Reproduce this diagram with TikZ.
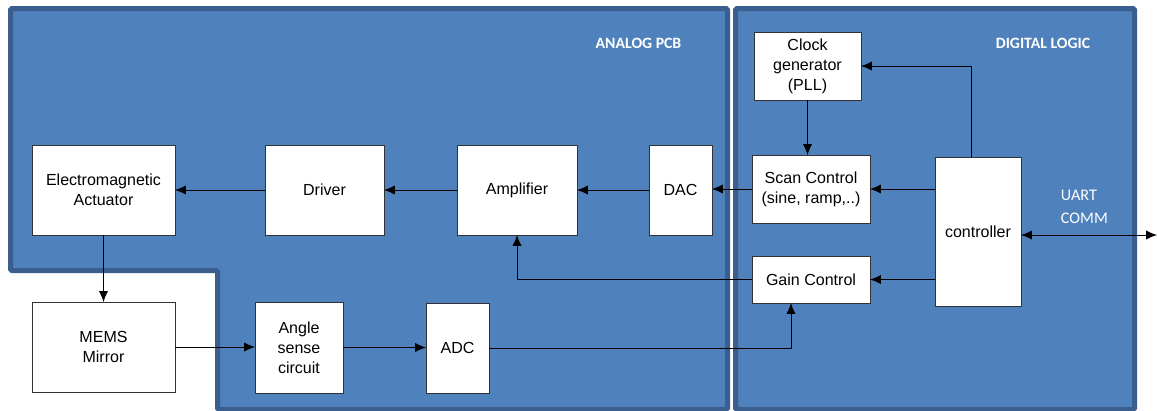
\documentclass[tikz,border=0pt]{standalone}
\usepackage{fontspec}
\setmainfont{Liberation Sans}
\newfontfamily\calib{Carlito}
\usetikzlibrary{arrows.meta,calc}
\newcommand\pxu{0.025cm}
\definecolor{regfill}{HTML}{4F81BD}
\definecolor{regline}{HTML}{3A5F8E}
\definecolor{boxline}{HTML}{333333}
\tikzset{
  region/.style={fill=regfill,draw=regline,line width=5*\pxu,rounded corners=1.5*\pxu},
  blk/.style={draw=boxline,fill=white,line width=0.7pt,inner sep=0pt,outer sep=0pt,align=center,
    font=\fontsize{11.4}{14.2}\selectfont,text=black},
  title/.style={font=\calib\bfseries\fontsize{11.2}{13}\selectfont,text=white},
  conn/.style={draw=black,line width=0.7pt,-{Latex[length=2.7mm,width=2.3mm]}},
  biconn/.style={draw=black,line width=0.7pt,{Latex[length=2.7mm,width=2.3mm]}-{Latex[length=2.7mm,width=2.3mm]}},
}
\begin{document}
\begin{tikzpicture}[x=\pxu,y=-\pxu]
\useasboundingbox (0,0) rectangle (1157,410);
\begin{scope}
\clip (0,0) rectangle (1157,410);
\draw[region] (10.5,8.5) -- (727.5,8.5) -- (727.5,409.5) -- (217.5,409.5) -- (217.5,270.5) -- (10.5,270.5) -- cycle;
\draw[region] (735.5,8.5) rectangle (1134.5,409.5);
\end{scope}
\node[title] (tana) at (638.5,43) {ANALOG PCB};
\node[title] (tdig) at (1043,43) {DIGITAL LOGIC};

\node[blk,minimum width=143*\pxu,minimum height=90*\pxu] (ea) at (103.5,190) {Electromagnetic\\Actuator};
\node[blk,minimum width=119*\pxu,minimum height=90*\pxu] (drv) at (324.5,190) {Driver};
\node[blk,minimum width=120*\pxu,minimum height=90*\pxu] (amp) at (517,190) {Amplifier};
\node[blk,minimum width=63*\pxu,minimum height=90*\pxu] (dac) at (680.5,190) {DAC};
\node[blk,minimum width=118*\pxu,minimum height=68*\pxu] (scan) at (811,189) {Scan Control\\(sine, ramp,..)};
\node[blk,minimum width=107*\pxu,minimum height=68*\pxu] (clk) at (807.5,66) {Clock\\generator\\(PLL)};
\node[blk,minimum width=86*\pxu,minimum height=149*\pxu] (ctrl) at (978,231.5) {controller};
\node[blk,minimum width=118*\pxu,minimum height=47*\pxu] (gain) at (811,279.5) {Gain Control};
\node[blk,minimum width=143*\pxu,minimum height=90*\pxu] (mems) at (103.5,347) {MEMS\\Mirror};
\node[blk,minimum width=88*\pxu,minimum height=91*\pxu] (ang) at (299,347.5) {Angle\\sense\\circuit};
\node[blk,minimum width=63*\pxu,minimum height=90*\pxu] (adc) at (457.5,348) {ADC};

\node[font=\calib\fontsize{11.5}{16}\selectfont,text=white,anchor=west,align=left] (uartt) at (1056,207) {UART\\COMM};
\coordinate (uart) at (1157,235);
\coordinate (ctop) at (971,157);
\coordinate (gbot) at (791,303);

\draw[conn] (drv.west) -- (ea.east);
\draw[conn] (amp.west) -- (drv.east);
\draw[conn] (dac.west) -- (amp.east);
\draw[conn] (scan.west) -- (dac.east |- scan.west);
\draw[conn] (scan.east -| ctrl.west) -- (scan.east);
\draw[conn] (gain.east -| ctrl.west) -- (gain.east);
\draw[conn] (ctop) |- (clk.east);
\draw[conn] (clk.south) -- (clk.south |- scan.north);
\draw[conn] (gain.west) -| (amp.south);
\draw[conn] (adc.east) -| (gbot);
\draw[conn] (ea.south) -- (ea.south |- mems.north);
\draw[conn] (mems.east) -- (ang.west |- mems.east);
\draw[conn] (ang.east) -- (adc.west |- ang.east);
\draw[biconn] (ctrl.east |- uart) -- (uart);
\end{tikzpicture}
\end{document}
